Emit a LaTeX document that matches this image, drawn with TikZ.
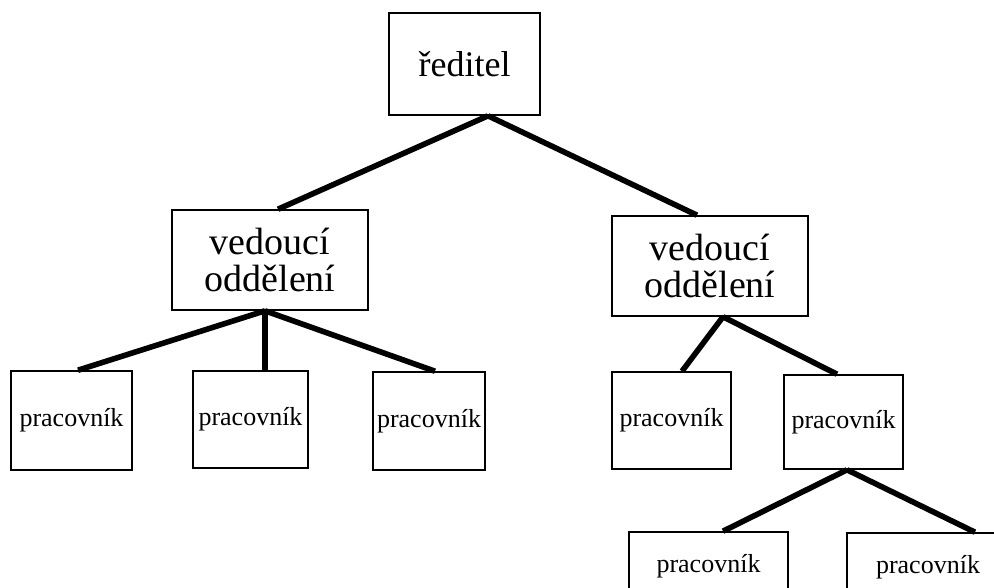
\documentclass[tikz,border=0pt]{standalone}
\usepackage{fontspec}
\setmainfont{Liberation Serif}
\usetikzlibrary{calc}

\begin{document}
\begin{tikzpicture}[x=0.75pt,y=-0.75pt,
  box/.style={draw,line width=1.2pt,fill=white,inner sep=0pt,align=center},
  boss/.style={box,minimum width=113pt,minimum height=76.5pt,font=\fontsize{27}{30}\selectfont},
  head/.style={box,minimum width=147pt,minimum height=75pt,font=\fontsize{28.5}{27.75}\selectfont},
  wrk/.style 2 args={box,minimum width=#1,minimum height=#2,font=\fontsize{19.5}{22}\selectfont},
  link/.style={line width=4.2pt}]
\clip (0,0) rectangle (994,587);
\fill[white] (0,0) rectangle (994,587);
% boxes
\node[boss] (dir) at (464.5,64) {ředitel};
\node[head] (hl) at (270,260) {vedoucí\\oddělení};
\node[head] (hr) at (710,266) {vedoucí\\oddělení};
\node[wrk={90.75pt}{74.25pt}] (w1) at (71.5,420.5) {pracovník};
\node[wrk={86.25pt}{72.75pt}] (w2) at (250.5,419.5) {pracovník};
\node[wrk={84pt}{73.5pt}] (w3) at (429,421) {pracovník};
\node[wrk={89.25pt}{72.75pt}] (w4) at (671.5,420.5) {pracovník};
\node[wrk={89.25pt}{70.5pt}] (w5) at (843.5,422) {pracovník};
\node[wrk={119.25pt}{51pt}] (w6) at (708.5,566) {pracovník};
\node[wrk={121.5pt}{51pt}] (w7) at (928,567) {pracovník};
% links
\draw[link] ($(dir.south)+(23.5,0)$) -- ($(hl.north)+(8,0)$);
\draw[link] ($(dir.south)+(23.5,0)$) -- ($(hr.north)+(-13,0)$);
\draw[link] ($(hl.south)+(-5,0)$) -- ($(w1.north)+(6.5,0)$);
\draw[link] ($(hl.south)+(-5,0)$) -- ($(w2.north)+(14.5,0)$);
\draw[link] ($(hl.south)+(-5,0)$) -- ($(w3.north)+(6,0)$);
\draw[link] ($(hr.south)+(13,0)$) -- ($(w4.north)+(10.5,0)$);
\draw[link] ($(hr.south)+(13,0)$) -- ($(w5.north)+(-6.5,0)$);
\draw[link] ($(w5.south)+(3.5,0)$) -- ($(w6.north)+(14.5,0)$);
\draw[link] ($(w5.south)+(3.5,0)$) -- ($(w7.north)+(47,0)$);
\end{tikzpicture}
\end{document}
